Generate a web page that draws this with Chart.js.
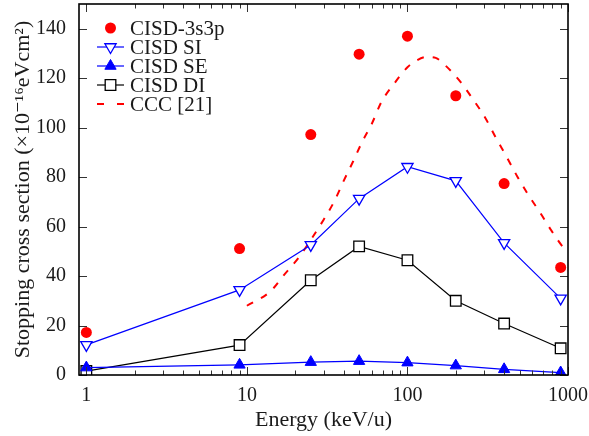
<!DOCTYPE html>
<html>
<head>
<meta charset="utf-8">
<script src="https://cdn.jsdelivr.net/npm/chart.js@4"></script>
<style>
  html, body { margin: 0; padding: 0; background: #fff; }
  #wrap { width: 589px; height: 436px; }
</style>
</head>
<body>
<div id="wrap"><canvas id="myChart" width="589" height="436"></canvas></div>
<script>
// energies (keV/u) of the CISD points
const energies = [1, 9, 25, 50, 100, 200, 400, 900];
const cisd3s3p = [17.2, 51.1, 97.2, 129.7, 137.0, 112.9, 77.4, 43.5];
const cisdSI   = [12.2, 34.4, 52.6, 71.3, 84.2, 78.5, 53.4, 31.0];
const cisdSE   = [3.0, 4.1, 5.2, 5.6, 5.0, 3.8, 2.3, 1.0];
const cisdDI   = [1.6, 12.1, 38.3, 52.0, 46.4, 30.0, 20.8, 10.8];

// CCC [21] curve
const cccEnergies = [10, 14, 17, 21, 25, 30, 35, 40, 46, 52, 60, 69, 82, 100, 115, 132, 150, 172, 214, 257, 305, 355, 414, 484, 569, 670, 786, 933, 1000];
const cccValues   = [28, 33.8, 40.4, 47.4, 54.6, 62.7, 70.2, 78.4, 86.5, 94, 101.6, 110.5, 117.5, 124.4, 127.3, 128.6, 128.2, 125.2, 118.5, 111.3, 104, 96, 88.3, 80.2, 72.6, 65.7, 58.5, 51.6, 49.5];

const seriesLabels = ['CISD-3s3p', 'CISD SI', 'CISD SE', 'CISD DI', 'CCC [21]'];
const xTickValues = [1, 10, 100, 1000];
const yTickValues = [0, 20, 40, 60, 80, 100, 120, 140];

const serif = "'Liberation Serif', 'DejaVu Serif', serif";
const textColor = '#1a1a1a';

const pts = (xs, ys) => xs.map((x, i) => ({ x: x, y: ys[i] }));

// box around the plot with inward ticks on all four sides
const frameTicks = {
  id: 'frameTicks',
  afterDatasetsDraw(chart) {
    const { ctx, chartArea: a, scales: { x, y } } = chart;
    ctx.save();
    ctx.strokeStyle = '#333';
    ctx.lineWidth = 1;
    ctx.beginPath();
    yTickValues.forEach(v => {
      const py = Math.round(y.getPixelForValue(v)) + 0.5;
      ctx.moveTo(a.left, py); ctx.lineTo(a.left + 8, py);
      ctx.moveTo(a.right, py); ctx.lineTo(a.right - 8, py);
    });
    for (let dec = 1; dec <= 1000; dec *= 10) {
      for (let m = 1; m <= 9; m++) {
        const v = dec * m;
        if (v < x.min || v > x.max) continue;
        const len = m === 1 ? 8 : 4.5;
        const px = Math.round(x.getPixelForValue(v)) + 0.5;
        ctx.moveTo(px, a.bottom); ctx.lineTo(px, a.bottom - len);
        ctx.moveTo(px, a.top); ctx.lineTo(px, a.top + len);
      }
    }
    ctx.stroke();
    ctx.strokeStyle = '#000';
    ctx.lineWidth = 1.6;
    ctx.strokeRect(a.left, a.top, a.right - a.left, a.bottom - a.top);
    ctx.restore();
  }
};

// legend in the upper left corner of the plot, line sample + marker
const innerLegend = {
  id: 'innerLegend',
  afterDraw(chart) {
    const { ctx } = chart;
    const x0 = 97, x1 = 124, xm = 110.5, tx = 130;
    ctx.save();
    chart.data.datasets.forEach((ds, i) => {
      const yy = 28 + i * 19;
      if (ds.showLine !== false) {
        ctx.beginPath();
        ctx.strokeStyle = ds.borderColor;
        ctx.lineWidth = ds.borderWidth;
        ctx.setLineDash(ds.borderDash ? [7, 13] : []);
        ctx.moveTo(x0, yy); ctx.lineTo(x1, yy);
        ctx.stroke();
        ctx.setLineDash([]);
      }
      if (ds.pointRadius > 0) {
        ctx.fillStyle = ds.pointBackgroundColor;
        ctx.strokeStyle = ds.pointBorderColor;
        ctx.lineWidth = ds.pointBorderWidth;
        Chart.helpers.drawPoint(ctx, {
          pointStyle: ds.pointStyle, radius: ds.pointRadius,
          rotation: ds.pointRotation || 0, borderWidth: ds.pointBorderWidth
        }, xm, yy);
      }
      ctx.fillStyle = textColor;
      ctx.font = '21px ' + serif;
      ctx.textBaseline = 'middle';
      ctx.textAlign = 'left';
      ctx.fillText(ds.label, tx, yy + 1);
    });
    ctx.restore();
  }
};

const ctx = document.getElementById('myChart').getContext('2d');
const myChart = new Chart(ctx, {
  type: 'line',
  data: {
    datasets: [
      {
        label: seriesLabels[0],
        data: pts(energies, cisd3s3p),
        showLine: false,
        borderColor: '#ff0000',
        pointStyle: 'circle',
        pointRadius: 5.5,
        pointBackgroundColor: '#ff0000',
        pointBorderColor: '#ff0000',
        pointBorderWidth: 0
      },
      {
        label: seriesLabels[1],
        data: pts(energies, cisdSI),
        borderColor: '#0000ff',
        borderWidth: 1.2,
        pointStyle: 'triangle',
        pointRotation: 180,
        pointRadius: 6.5,
        pointBackgroundColor: '#ffffff',
        pointBorderColor: '#0000ff',
        pointBorderWidth: 1.3
      },
      {
        label: seriesLabels[2],
        data: pts(energies, cisdSE),
        borderColor: '#0000ff',
        borderWidth: 1.2,
        pointStyle: 'triangle',
        pointRadius: 6.5,
        pointBackgroundColor: '#0000ff',
        pointBorderColor: '#0000ff',
        pointBorderWidth: 1
      },
      {
        label: seriesLabels[3],
        data: pts(energies, cisdDI),
        borderColor: '#000000',
        borderWidth: 1.2,
        pointStyle: 'rect',
        pointRadius: 7.5,
        pointBackgroundColor: '#ffffff',
        pointBorderColor: '#000000',
        pointBorderWidth: 1.3
      },
      {
        label: seriesLabels[4],
        data: pts(cccEnergies, cccValues),
        borderColor: '#ff0000',
        borderWidth: 2,
        borderDash: [7, 9],
        pointRadius: 0,
        cubicInterpolationMode: 'monotone'
      }
    ]
  },
  options: {
    responsive: false,
    maintainAspectRatio: false,
    animation: false,
    layout: { autoPadding: false, padding: { top: 4, right: 21, left: 0, bottom: 0 } },
    plugins: {
      legend: { display: false },
      tooltip: { enabled: false }
    },
    scales: {
      x: {
        type: 'logarithmic',
        min: 0.9,
        max: 1000,
        afterBuildTicks: s => { s.ticks = xTickValues.map(v => ({ value: v })); },
        afterFit: s => { s.height = 61; s.paddingLeft = 0; s.paddingRight = 0; },
        grid: { display: false, drawTicks: false },
        border: { display: false },
        ticks: {
          autoSkip: false,
          maxRotation: 0,
          padding: 9,
          color: textColor,
          font: { family: serif, size: 20 },
          callback: v => String(v)
        },
        title: {
          display: true,
          text: 'Energy (keV/u)',
          color: textColor,
          font: { family: serif, size: 22 },
          padding: { top: 0, bottom: 3 }
        }
      },
      y: {
        min: 0,
        max: 150,
        afterBuildTicks: s => { s.ticks = yTickValues.map(v => ({ value: v })); },
        afterFit: s => { s.width = 79; s.paddingTop = 0; s.paddingBottom = 0; },
        grid: { display: false, drawTicks: false },
        border: { display: false },
        ticks: {
          padding: 13,
          color: textColor,
          font: { family: serif, size: 20, lineHeight: 0.3 }
        },
        title: {
          display: true,
          text: 'Stopping cross section (×10⁻¹⁶eVcm²)',
          color: textColor,
          font: { family: serif, size: 22 },
          padding: { top: 10, bottom: 0 }
        }
      }
    }
  },
  plugins: [frameTicks, innerLegend]
});
</script>
</body>
</html>
